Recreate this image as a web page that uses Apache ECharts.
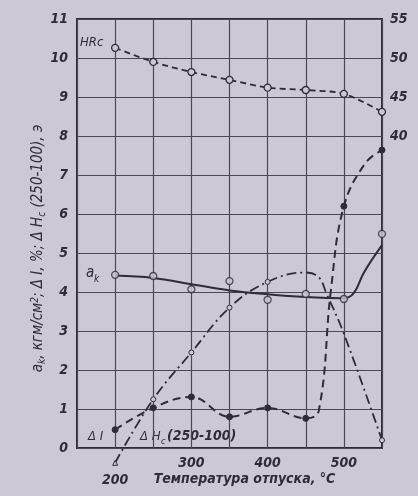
<!DOCTYPE html>
<html><head><meta charset="utf-8">
<script src="https://cdn.jsdelivr.net/npm/echarts@6/dist/echarts.min.js"></script>
<style>html,body{margin:0;padding:0;background:#cdc8d6;}#c{width:418px;height:496px;}</style>
</head><body><div id="c"></div>
<script>
// Temperatures (°C)
var temps = [200, 250, 300, 350, 400, 450, 500, 550];
// HRc (right axis)
var hrc = [51.3, 49.5, 48.2, 47.2, 46.2, 45.9, 45.4, 43.1];
// a_k measured points
var akPoints = [4.44, 4.41, 4.07, 4.28, 3.80, 3.95, 3.82, 5.49];
// a_k fitted curve
var akCurveT = [200, 250, 300, 350, 400, 450, 500, 513, 526, 550];
var akCurve = [4.42, 4.36, 4.20, 4.04, 3.94, 3.87, 3.84, 3.97, 4.49, 5.20];
// ΔI measured points
var dI = [0.47, 1.03, 1.31, 0.80, 1.03, 0.76, 6.20, 7.64];
// ΔI curve shape
var dICurveT = [200, 250, 300, 350, 400, 450, 467, 483, 500, 528, 550];
var dICurve = [0.47, 1.03, 1.31, 0.80, 1.03, 0.76, 0.95, 4.05, 6.20, 7.30, 7.64];
// ΔHc(250-100) curve
var dHcT = [200, 250, 300, 350, 400, 450, 467, 477, 500, 550];
var dHc = [-0.38, 1.25, 2.45, 3.60, 4.26, 4.50, 4.38, 3.97, 2.93, 0.20];
var dHcMarked = [200, 250, 300, 350, 400, 550];
// Axis ticks
var xTicks = [200, 300, 400, 500];
var leftTicks = [0,1,2,3,4,5,6,7,8,9,10,11];
var rightTicks = [40, 45, 50, 55];

var font = "'Liberation Sans Narrow', 'DejaVu Sans Condensed', sans-serif";
var ink = '#2e2c36';
var bg = '#cdc8d6';

function pairs(t, v){ return t.map(function(x,i){ return [x, v[i]]; }); }

var lbl = {color: ink, fontFamily: font, fontStyle: 'italic', fontWeight: 'bold', fontSize: 14};

var chart = echarts.init(document.getElementById('c'));
chart.setOption({
  backgroundColor: bg,
  animation: false,
  grid: {left: 77, right: 36, top: 19, bottom: 48, show: true, borderColor: ink, borderWidth: 2,
         containLabel: false, outerBoundsMode: 'none'},
  xAxis: {
    type: 'value', min: 150, max: 550, interval: 50,
    axisLine: {show: false}, axisTick: {show: false},
    splitLine: {show: true, lineStyle: {color: '#4a4854', width: 1.2}},
    axisLabel: Object.assign({margin: 8,
      formatter: function(v){ if (v === 200) return '{low|200}'; return xTicks.indexOf(v) >= 0 ? String(v) : ''; },
      rich: {low: Object.assign({padding: [17, 0, 0, 0]}, lbl)}
    }, lbl),
    name: 'Температура отпуска, °С', nameLocation: 'middle', nameGap: 24, nameMoveOverlap: false,
    nameTextStyle: Object.assign({padding: [0, 0, 0, 30]}, lbl)
  },
  yAxis: [{
    type: 'value', min: 0, max: 11, interval: 1,
    axisLine: {show: false}, axisTick: {show: false},
    splitLine: {show: true, lineStyle: {color: '#4a4854', width: 1.2}},
    axisLabel: Object.assign({margin: 9,
      formatter: function(v){ return leftTicks.indexOf(v) >= 0 ? String(v) : ''; }}, lbl),
    name: '{t|a}{s|k}{t|, кгм/см}{p|2}{t|; Δ I, %; Δ H}{s|c}{t| (250-100), э}',
    nameLocation: 'middle', nameGap: 30, nameRotate: 90, nameMoveOverlap: false,
    nameTextStyle: {padding: [0, 0, 0, -30], rich: {
      t: {color: ink, fontFamily: font, fontStyle: 'italic', fontSize: 15},
      s: {color: ink, fontFamily: font, fontStyle: 'italic', fontSize: 10, padding: [7, 0, 0, 0]},
      p: {color: ink, fontFamily: font, fontStyle: 'italic', fontSize: 10, padding: [0, 0, 7, 0]}
    }}
  }, {
    type: 'value', min: 0, max: 55, interval: 5, position: 'right',
    axisLine: {show: false}, axisTick: {show: false}, splitLine: {show: false},
    axisLabel: Object.assign({margin: 8,
      formatter: function(v){ return rightTicks.indexOf(v) >= 0 ? String(v) : ''; }}, lbl)
  }],
  series: [
    {type: 'line', yAxisIndex: 1, data: pairs(temps, hrc), smooth: 0.3,
     lineStyle: {color: ink, width: 1.8, type: [6, 4]},
     symbol: 'circle', symbolSize: 7, itemStyle: {color: bg, borderColor: ink, borderWidth: 1.3}},
    {type: 'line', data: pairs(akCurveT, akCurve), smooth: 0.4, showSymbol: false, symbol: 'none',
     lineStyle: {color: ink, width: 2}},
    {type: 'scatter', data: pairs(temps, akPoints), symbol: 'circle', symbolSize: 7,
     itemStyle: {color: bg, borderColor: ink, borderWidth: 1.3}, z: 5},
    {type: 'line', data: pairs(dICurveT, dICurve), smooth: 0.4,
     lineStyle: {color: ink, width: 2, type: [8, 5]},
     symbol: function(val){ return temps.indexOf(val[0]) >= 0 ? 'circle' : 'none'; },
     symbolSize: 6, itemStyle: {color: ink, borderColor: ink}},
    {type: 'line', data: pairs(dHcT, dHc), smooth: 0.4, clip: false,
     lineStyle: {color: ink, width: 1.8, type: [10, 4, 2, 4]},
     symbol: function(val){ if (val[0] === 200) return 'triangle'; return dHcMarked.indexOf(val[0]) >= 0 ? 'circle' : 'none'; },
     symbolSize: 5, itemStyle: {color: bg, borderColor: ink, borderWidth: 1}}
  ],
  graphic: [
    {type: 'text', left: 80, top: 36, style: {text: 'HRc', fill: ink, font: 'italic 13px ' + font}},
    {type: 'text', left: 86, top: 266, style: {text: 'a', fill: ink, font: 'italic 15px ' + font}},
    {type: 'text', left: 94, top: 274, style: {text: 'k', fill: ink, font: 'italic 10px ' + font}},
    {type: 'text', left: 88, top: 430, style: {text: 'Δ I', fill: ink, font: 'italic 13px ' + font}},
    {type: 'text', left: 140, top: 430, style: {text: 'Δ H', fill: ink, font: 'italic 13px ' + font}},
    {type: 'text', left: 161, top: 437, style: {text: 'c', fill: ink, font: 'italic 9px ' + font}},
    {type: 'text', left: 167, top: 429, style: {text: '(250-100)', fill: ink, font: 'italic bold 14px ' + font}}
  ]
});
</script></body></html>
